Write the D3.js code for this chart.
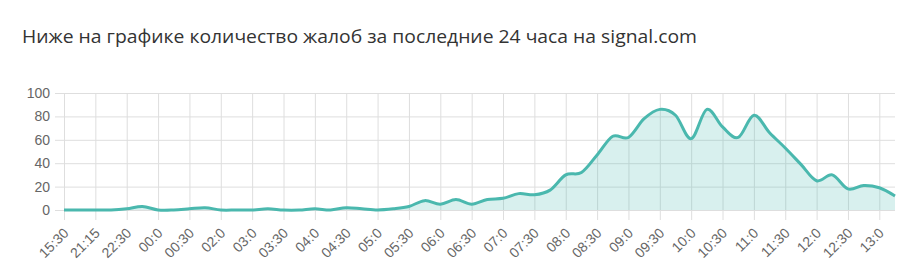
<!DOCTYPE html>
<html>
<head>
<meta charset="utf-8">
<script src="https://cdn.jsdelivr.net/npm/d3@7"></script>
<style>
  body { margin: 0; background: #fff; }
  .grid line { stroke: #dedede; }
  .grid path { display: none; }
  .grid text { fill: #666; font-family: "Liberation Sans", Arial, sans-serif; font-size: 14px; }
  .title { fill: #333; font-family: "Open Sans", sans-serif; font-size: 19px; }
</style>
</head>
<body>
<svg id="chart" width="916" height="279"></svg>
<script>
const title = "Ниже на графике количество жалоб за последние 24 часа на signal.com";

// x labels, one for every second data point
const tickLabels = ["15:30", "21:15", "22:30", "00:0", "00:30", "02:0", "03:0", "03:30", "04:0",
  "04:30", "05:0", "05:30", "06:0", "06:30", "07:0", "07:30", "08:0", "08:30", "09:0",
  "09:30", "10:0", "10:30", "11:0", "11:30", "12:0", "12:30", "13:0"];

// complaints per data point
const values = [0, 0, 0, 0, 1, 3, 0, 0, 1, 2, 0, 0, 0, 1, 0, 0, 1, 0, 2, 1,
  0, 1, 3, 8, 5, 9, 5, 9, 10, 14, 13, 17, 30, 32, 47, 63, 62, 78, 86, 81,
  61, 86, 71, 62, 81, 66, 53, 39, 25, 30, 18, 21, 19, 12];

const yTicks = [0, 20, 40, 60, 80, 100];

const plotLeft = 64, plotRight = 895, plotTop = 93, plotBottom = 210;

const svg = d3.select("#chart");

const x = d3.scaleLinear().domain([0, values.length - 1]).range([plotLeft, plotRight]);
const y = d3.scaleLinear().domain([0, 100]).range([plotBottom, plotTop]);

svg.append("text").attr("class", "title")
  .attr("x", 22).attr("y", 43)
  .attr("textLength", 675).attr("lengthAdjust", "spacingAndGlyphs")
  .text(title);

// horizontal grid + y labels
svg.append("g").attr("class", "grid")
  .attr("transform", `translate(${plotLeft - 9},0)`)
  .call(d3.axisLeft(y).tickValues(yTicks).tickSize(-(plotRight - plotLeft + 9)).tickPadding(5));

// vertical grid + x labels
const xIdx = tickLabels.map((d, i) => i * 2);
const xg = svg.append("g").attr("class", "grid")
  .attr("transform", `translate(0,${plotTop})`)
  .call(d3.axisBottom(x).tickValues(xIdx).tickSize(plotBottom - plotTop + 10)
    .tickFormat((d, i) => tickLabels[i]));

xg.selectAll("text")
  .attr("x", 0).attr("y", 0).attr("dy", 0)
  .attr("text-anchor", "end")
  .attr("transform", `translate(5,${plotBottom - plotTop + 24}) rotate(-45)`);

const area = d3.area()
  .x((d, i) => x(i)).y0(y(0)).y1(d => y(d))
  .curve(d3.curveCardinal.tension(0));

const line = d3.line()
  .x((d, i) => x(i)).y(d => y(d))
  .curve(d3.curveCardinal.tension(0));

svg.append("path").datum(values)
  .attr("d", area)
  .attr("fill", "#4fbcb2").attr("fill-opacity", 0.22);

svg.append("path").datum(values)
  .attr("d", line)
  .attr("fill", "none")
  .attr("stroke", "#4ab8ae")
  .attr("stroke-width", 3);
</script>
</body>
</html>
